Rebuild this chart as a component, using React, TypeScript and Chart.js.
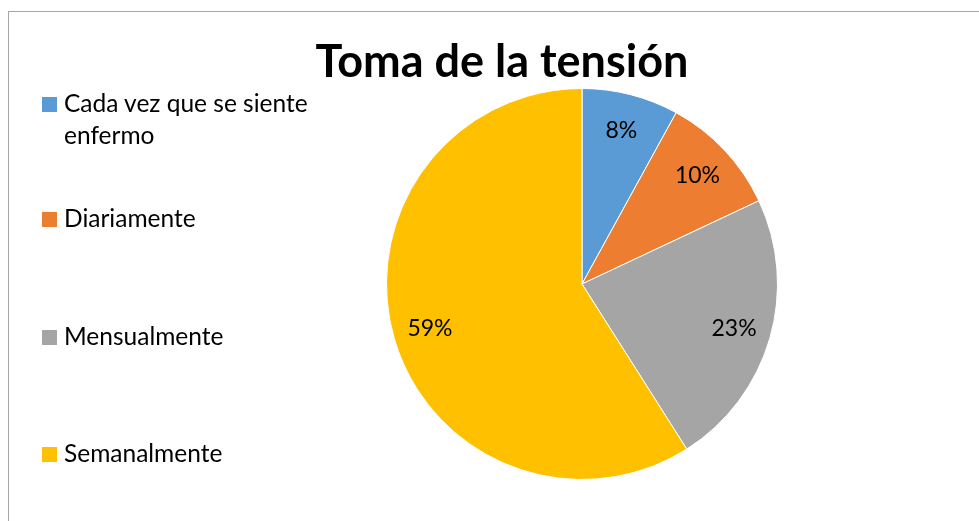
import React, { useEffect, useRef } from "react";
import { Chart, registerables } from "chart.js";

Chart.register(...registerables);

const TITLE = "Toma de la tensión";
const CATEGORIES = [
  "Cada vez que se siente enfermo",
  "Diariamente",
  "Mensualmente",
  "Semanalmente",
];
const LEGEND_LINES = [
  ["Cada vez que se siente", "enfermo"],
  ["Diariamente"],
  ["Mensualmente"],
  ["Semanalmente"],
];
const VALUES = [8, 10, 23, 59];
const COLORS = ["#5b9bd5", "#ed7d31", "#a5a5a5", "#ffc000"];

// layout (page pixels)
const LEGEND_TOPS = [87, 202, 320, 437];
const FONT = "Lato, 'Noto Sans', sans-serif";

const labelPlugin = {
  id: "pctLabels",
  afterDatasetsDraw(chart: any) {
    const ctx = chart.ctx;
    const meta = chart.getDatasetMeta(0);
    const data = chart.data.datasets[0].data as number[];
    const total = data.reduce((a, b) => a + b, 0);
    ctx.save();
    ctx.font = "23px Lato, 'Noto Sans', sans-serif";
    ctx.fillStyle = "#000";
    ctx.textAlign = "center";
    ctx.textBaseline = "middle";
    meta.data.forEach((arc: any, i: number) => {
      const p = arc.getProps(["x", "y", "startAngle", "endAngle", "outerRadius"], true);
      const mid = (p.startAngle + p.endAngle) / 2;
      const r = p.outerRadius * 0.81;
      ctx.fillText(
        Math.round((data[i] / total) * 100) + "%",
        p.x + Math.cos(mid) * r,
        p.y + Math.sin(mid) * r
      );
    });
    ctx.restore();
  },
};

export default function App() {
  const ref = useRef<HTMLCanvasElement | null>(null);

  useEffect(() => {
    if (!ref.current) return;
    const chart = new Chart(ref.current, {
      type: "pie",
      data: {
        labels: CATEGORIES,
        datasets: [
          {
            data: VALUES,
            backgroundColor: COLORS,
            borderColor: "#ffffff",
            borderWidth: 1,
          },
        ],
      },
      options: {
        responsive: false,
        animation: false,
        layout: { padding: { left: 386, right: 201, top: 88, bottom: 41 } },
        plugins: {
          legend: { display: false },
          title: { display: false },
          tooltip: { enabled: false },
        },
      },
      plugins: [labelPlugin],
    });
    return () => chart.destroy();
  }, []);

  return (
    <div
      style={{
        position: "fixed",
        left: 0,
        top: 0,
        width: 979,
        height: 521,
        overflow: "hidden",
        background: "#fff",
      }}
    >
      <div
        style={{
          position: "absolute",
          left: 8,
          top: 11,
          width: 1100,
          height: 700,
          border: "1px solid #a6a6a6",
        }}
      />
      <canvas
        ref={ref}
        width={979}
        height={521}
        style={{ position: "absolute", left: 0, top: 0 }}
      />
      <div
        style={{
          position: "absolute",
          left: 0,
          top: 33,
          width: 1004,
          textAlign: "center",
          fontFamily: FONT,
          fontWeight: 700,
          fontSize: 45,
          lineHeight: "normal",
          color: "#000",
          whiteSpace: "nowrap",
        }}
      >
        {TITLE}
      </div>
      {LEGEND_LINES.map((lines, i) => (
        <div
          key={i}
          style={{
            position: "absolute",
            left: 42,
            top: LEGEND_TOPS[i],
            fontFamily: FONT,
            fontSize: 24.5,
            lineHeight: "32px",
            color: "#000",
            whiteSpace: "nowrap",
          }}
        >
          <div
            style={{
              position: "absolute",
              left: 0,
              top: 10,
              width: 15,
              height: 15,
              background: COLORS[i],
            }}
          />
          <div style={{ marginLeft: 22 }}>
            {lines.map((l, j) => (
              <div key={j}>{l}</div>
            ))}
          </div>
        </div>
      ))}
    </div>
  );
}
